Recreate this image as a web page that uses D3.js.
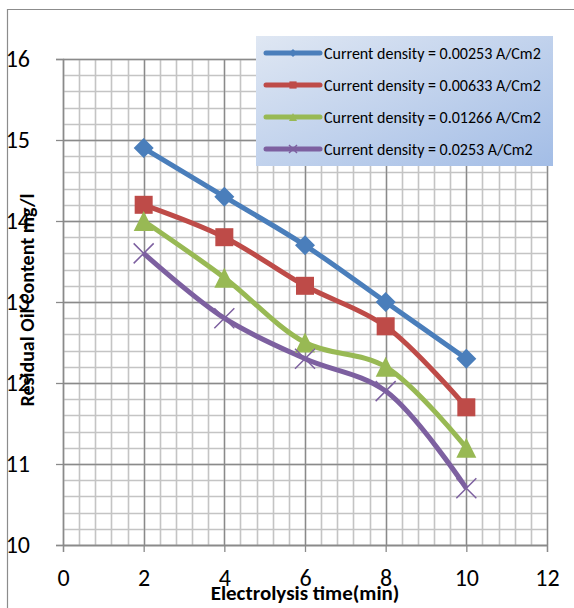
<!DOCTYPE html>
<html><head><meta charset="utf-8">
<script src="https://cdn.jsdelivr.net/npm/d3@7"></script>
<style>body{margin:0;background:#fff;} svg{display:block;}</style>
</head><body>
<svg id="chart" width="574" height="608"></svg>
<script>
const times = [2, 4, 6, 8, 10];
const seriesNames = [
  "Current density = 0.00253 A/Cm2",
  "Current density = 0.00633 A/Cm2",
  "Current density = 0.01266 A/Cm2",
  "Current density = 0.0253 A/Cm2"
];
const s1 = [14.9, 14.3, 13.7, 13.0, 12.3];
const s2 = [14.2, 13.8, 13.2, 12.7, 11.7];
const s3 = [14.0, 13.3, 12.5, 12.2, 11.2];
const s4 = [13.6, 12.8, 12.3, 11.9, 10.7];
const xTicks = [0, 2, 4, 6, 8, 10, 12];
const yTicks = [10, 11, 12, 13, 14, 15, 16];
const xTitle = "Electrolysis time(min)";
const yTitle = "Residual Oil Content mg/l";

const colors = ["#4A7EBB", "#BE4B48", "#98B954", "#7D60A0"];
const shapes = ["diamond", "square", "triangle", "x"];
const allSeries = [s1, s2, s3, s4];
const FONT = "Carlito, Calibri, Lato, 'Open Sans', sans-serif";

const svg = d3.select("#chart");
const x = d3.scaleLinear().domain([0, 12]).range([63, 547]);
const y = d3.scaleLinear().domain([10, 16]).range([545, 59]);

// outer frame (left and top)
svg.append("path").attr("d", "M7.5,608 V9.5 H574").attr("fill", "none")
  .attr("stroke", "#8c8c8c").attr("stroke-width", 1.2);

// grid
const g = svg.append("g");
const minorX = d3.range(0, 12.001, 0.4);
const minorY = d3.range(10, 16.001, 0.2);
g.selectAll(".mx").data(minorX).join("line")
  .attr("x1", d => Math.round(x(d)) + 0.5).attr("x2", d => Math.round(x(d)) + 0.5)
  .attr("y1", y(16)).attr("y2", y(10)).attr("stroke", "#c4c4c4").attr("stroke-width", 1.6);
g.selectAll(".my").data(minorY).join("line")
  .attr("y1", d => Math.round(y(d)) + 0.5).attr("y2", d => Math.round(y(d)) + 0.5)
  .attr("x1", x(0)).attr("x2", x(12)).attr("stroke", "#c4c4c4").attr("stroke-width", 1.6);
g.selectAll(".Mx").data(xTicks).join("line")
  .attr("x1", d => Math.round(x(d)) + 0.5).attr("x2", d => Math.round(x(d)) + 0.5)
  .attr("y1", y(16)).attr("y2", y(10)).attr("stroke", "#8a8a8a").attr("stroke-width", 1.3);
g.selectAll(".My").data(yTicks).join("line")
  .attr("y1", d => Math.round(y(d)) + 0.5).attr("y2", d => Math.round(y(d)) + 0.5)
  .attr("x1", x(0)).attr("x2", x(12)).attr("stroke", "#8a8a8a").attr("stroke-width", 1.3);

// axes
const xAxis = d3.axisBottom(x).tickValues(xTicks).tickSize(7).tickPadding(17).tickFormat(d3.format("d"));
const yAxis = d3.axisLeft(y).tickValues(yTicks).tickSize(7).tickPadding(26).tickFormat(d3.format("d"));
const gx = svg.append("g").attr("transform", `translate(0,${y(10)})`).call(xAxis);
const gy = svg.append("g").attr("transform", `translate(${x(0)},0)`).call(yAxis);
[gx, gy].forEach(a => {
  a.select(".domain").attr("stroke", "#8a8a8a").attr("stroke-width", 1.3);
  a.selectAll(".tick line").attr("stroke", "#8a8a8a").attr("stroke-width", 1.3);
  a.selectAll("text").attr("font-family", FONT).attr("font-size", 24).attr("fill", "#000");
});

// series lines
const line = d3.line().x((d, i) => x(times[i])).y(d => y(d)).curve(d3.curveCatmullRom.alpha(0.5));
function marker(sel, shape, color, r, sw) {
  if (shape === "diamond") {
    sel.append("path").attr("d", `M0,${-r}L${r},0L0,${r}L${-r},0Z`).attr("fill", color);
  } else if (shape === "square") {
    sel.append("rect").attr("x", -r * 0.9).attr("y", -r * 0.9).attr("width", r * 1.8).attr("height", r * 1.8).attr("fill", color);
  } else if (shape === "triangle") {
    sel.append("path").attr("d", `M0,${-r}L${r},${r}L${-r},${r}Z`).attr("fill", color);
  } else {
    sel.append("path").attr("d", `M${-r},${-r}L${r},${r}M${-r},${r}L${r},${-r}`)
      .attr("stroke", color).attr("stroke-width", sw).attr("fill", "none");
  }
}
allSeries.forEach((s, k) => {
  svg.append("path").datum(s).attr("d", line).attr("fill", "none")
    .attr("stroke", colors[k]).attr("stroke-width", 5).attr("stroke-linejoin", "round");
});
allSeries.forEach((s, k) => {
  s.forEach((v, i) => {
    const m = svg.append("g").attr("transform", `translate(${x(times[i])},${y(v)})`);
    marker(m, shapes[k], colors[k], 10, 1.5);
  });
});

// legend
const defs = svg.append("defs");
const grad = defs.append("linearGradient").attr("id", "lg").attr("x1", "0").attr("y1", "0").attr("x2", "1").attr("y2", "1");
grad.append("stop").attr("offset", "0").attr("stop-color", "#dfe7f3");
grad.append("stop").attr("offset", "1").attr("stop-color", "#a3bde6");
const lg = svg.append("g");
lg.append("rect").attr("x", 256).attr("y", 36).attr("width", 297).attr("height", 130).attr("fill", "url(#lg)");
seriesNames.forEach((name, k) => {
  const yy = 53 + k * 32;
  lg.append("line").attr("x1", 266).attr("x2", 320).attr("y1", yy).attr("y2", yy)
    .attr("stroke", colors[k]).attr("stroke-width", 5).attr("stroke-linecap", "round");
  const m = lg.append("g").attr("transform", `translate(293,${yy})`);
  marker(m, shapes[k], colors[k], 4, 1.5);
  lg.append("text").attr("x", 324).attr("y", yy).attr("dy", "0.35em")
    .attr("font-family", FONT).attr("font-size", 16).attr("fill", "#000").text(name);
});

// titles
svg.append("text").attr("x", 305).attr("y", 600).attr("text-anchor", "middle")
  .attr("font-family", FONT).attr("font-weight", "bold").attr("font-size", 21).attr("fill", "#000").text(xTitle);
svg.append("text").attr("transform", "translate(34,300) rotate(-90)").attr("text-anchor", "middle")
  .attr("font-family", FONT).attr("font-weight", "bold").attr("font-size", 20).attr("fill", "#000").text(yTitle);
</script>
</body></html>
